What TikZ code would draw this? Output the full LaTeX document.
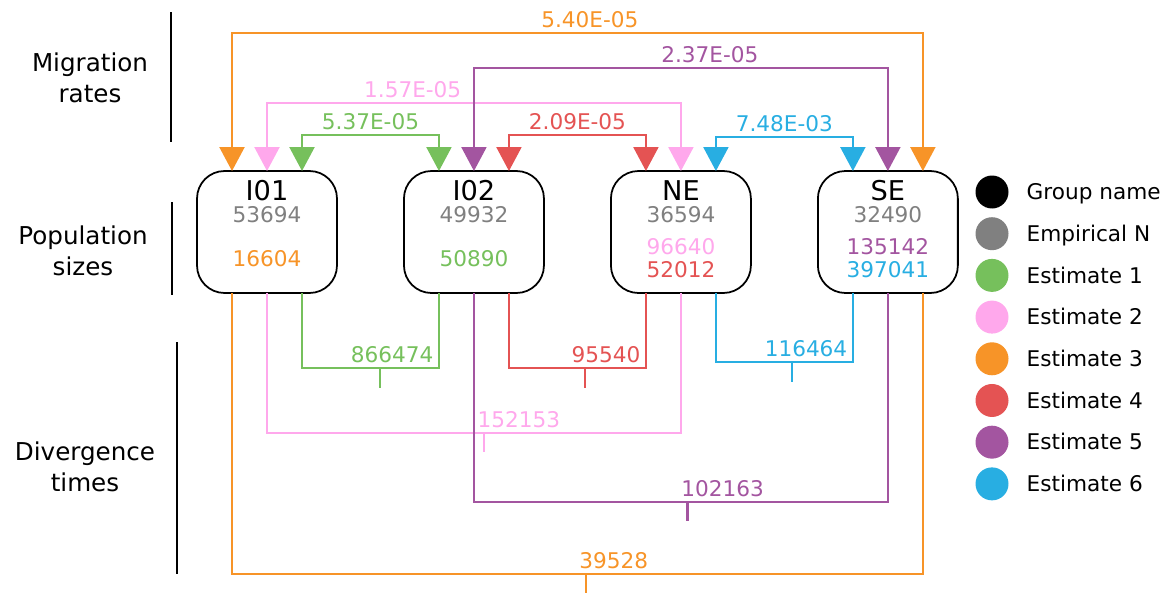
\documentclass[tikz,border=0pt]{standalone}
\usepackage{fontspec}
\setmainfont{DejaVu Sans}
\usetikzlibrary{arrows.meta,positioning,calc}

\definecolor{empgray}{RGB}{128,128,128}
\definecolor{estA}{RGB}{118,192,92}
\definecolor{estB}{RGB}{255,168,236}
\definecolor{estC}{RGB}{247,148,40}
\definecolor{estD}{RGB}{228,83,83}
\definecolor{estE}{RGB}{163,85,160}
\definecolor{estF}{RGB}{40,174,226}

\begin{document}
\begin{tikzpicture}[
    x=0.02cm, y=-0.02cm,
    popbox/.style={draw, rounded corners=0.55cm, line width=1pt, minimum width=2.8cm, minimum height=2.44cm, outer sep=0pt},
    grpname/.style={font=\fontsize{15.5}{17}\selectfont, inner sep=0pt},
    num/.style={font=\fontsize{12.3}{14}\selectfont, inner sep=0pt, text=#1},
    mig/.style={{Triangle[length=0.48cm,width=0.5cm]}-{Triangle[length=0.48cm,width=0.5cm]}, line width=1.25pt, draw=#1},
    div/.style={line width=1.4pt, draw=#1},
    lbl/.style={font=\fontsize{12.3}{14}\selectfont, inner sep=2.5pt, text=#1},
    cat/.style={font=\fontsize{14}{18}\selectfont, align=center},
    bar/.style={line width=1.1pt},
    dot/.style={circle, fill=#1, minimum size=0.66cm, inner sep=0pt},
    key/.style={font=\fontsize{12.3}{14}\selectfont, inner sep=0pt, text height=8.9pt, text depth=0pt},
]
    \useasboundingbox (0,0) rectangle (1173,592);

    % population boxes
    \node[popbox] (i01) at (267,232) {};
    \node[popbox, right=1.34cm of i01] (i02) {};
    \node[popbox, right=1.34cm of i02] (ne) {};
    \node[popbox, right=1.34cm of ne] (se) {};

    \node[grpname] (i01name) at ($(i01.north)+(0,20)$) {I01};
    \node[num=empgray] (i01emp) at ($(i01.north)+(0,44)$) {53694};
    \node[num=estC] (i01est) at ($(i01.north)+(0,88)$) {16604};

    \node[grpname] (i02name) at ($(i02.north)+(0,20)$) {I02};
    \node[num=empgray] (i02emp) at ($(i02.north)+(0,44)$) {49932};
    \node[num=estA] (i02est) at ($(i02.north)+(0,88)$) {50890};

    \node[grpname] (nename) at ($(ne.north)+(0,20)$) {NE};
    \node[num=empgray] (neemp) at ($(ne.north)+(0,44)$) {36594};
    \node[num=estB] (neestb) at ($(ne.north)+(0,76)$) {96640};
    \node[num=estD] (neestd) at ($(ne.north)+(0,99)$) {52012};

    \node[grpname] (sename) at ($(se.north)+(0,20)$) {SE};
    \node[num=empgray] (seemp) at ($(se.north)+(0,44)$) {32490};
    \node[num=estE] (seeste) at ($(se.north)+(0,76)$) {135142};
    \node[num=estF] (seestf) at ($(se.north)+(0,99)$) {397041};

    % migration rates
    \draw[mig=estC] ($(i01.north)+(-35,0)$) -- ++(0,-138) -| node[lbl=estC, above, pos=0.259] (mC) {5.40E-05} ($(se.north)+(35,0)$);
    \draw[mig=estB] (i01.north) -- ++(0,-68) -| node[lbl=estB, above, pos=0.176] (mB) {1.57E-05} (ne.north);
    \draw[mig=estE] (i02.north) -- ++(0,-103) -| node[lbl=estE, above, pos=0.285] (mE) {2.37E-05} (se.north);
    \draw[mig=estA] ($(i01.north)+(35,0)$) -- ++(0,-36) -| node[lbl=estA, above, pos=0.25] (mA) {5.37E-05} ($(i02.north)+(-35,0)$);
    \draw[mig=estD] ($(i02.north)+(35,0)$) -- ++(0,-36) -| node[lbl=estD, above, pos=0.25] (mD) {2.09E-05} ($(ne.north)+(-35,0)$);
    \draw[mig=estF] ($(ne.north)+(35,0)$) -- ++(0,-34) -| node[lbl=estF, above, pos=0.25] (mF) {7.48E-03} ($(se.north)+(-35,0)$);

    % divergence times
    \draw[div=estA] ($(i01.south)+(35,0)$) -- ++(0,75) -| node[lbl=estA, above left, pos=0.5] (dA) {866474} coordinate[pos=0.285] (tA) ($(i02.south)+(-35,0)$);
    \draw[div=estA] (tA) -- ++(0,20);
    \draw[div=estD] ($(i02.south)+(35,0)$) -- ++(0,75) -| node[lbl=estD, above left, pos=0.5] (dD) {95540} coordinate[pos=0.277] (tD) ($(ne.south)+(-35,0)$);
    \draw[div=estD] (tD) -- ++(0,20);
    \draw[div=estF] ($(ne.south)+(35,0)$) -- ++(0,69) -| node[lbl=estF, above left, pos=0.5] (dF) {116464} coordinate[pos=0.277] (tF) ($(se.south)+(-35,0)$);
    \draw[div=estF] (tF) -- ++(0,20);
    \draw[div=estB] (i01.south) -- ++(0,140) -| coordinate[pos=0.262] (tB) (ne.south);
    \draw[div=estB] (tB) -- ++(0,19);
    \node[lbl=estB, anchor=south west] (dB) at ($(tB)+(-11,0)$) {152153};
    \draw[div=estE] (i02.south) -- ++(0,209) -| coordinate[pos=0.258] (tE) (se.south);
    \draw[div=estE] (tE) -- ++(0,19);
    \node[lbl=estE, anchor=south west] (dE) at ($(tE)+(-11,0)$) {102163};
    \draw[div=estC] ($(i01.south)+(-35,0)$) -- ++(0,281) -| coordinate[pos=0.256] (tC) ($(se.south)+(35,0)$);
    \draw[div=estC] (tC) -- ++(0,19);
    \node[lbl=estC, anchor=south west] (dC) at ($(tC)+(-11,0)$) {39528};

    % row headings
    \node[cat] (migcat) at (90,78) {Migration\\rates};
    \node[cat] (popcat) at (83,251) {Population\\sizes};
    \node[cat] (divcat) at (85,467) {Divergence\\times};
    \draw[bar] (171,12) -- (171,142);
    \draw[bar] (172,202) -- (172,295);
    \draw[bar] (177,342) -- (177,574);

    % legend
    \node[dot=black] (kgrp) at (992,192) {};
    \node[dot=empgray, below=0.16cm of kgrp] (kemp) {};
    \node[dot=estA, below=0.16cm of kemp] (kA) {};
    \node[dot=estB, below=0.16cm of kA] (kB) {};
    \node[dot=estC, below=0.16cm of kB] (kC) {};
    \node[dot=estD, below=0.16cm of kC] (kD) {};
    \node[dot=estE, below=0.16cm of kD] (kE) {};
    \node[dot=estF, below=0.16cm of kE] (kF) {};
    \node[key, right=0.35cm of kgrp] (tgrp) {Group name};
    \node[key, right=0.35cm of kemp] (temp) {Empirical N};
    \node[key, right=0.35cm of kA] (ttA) {Estimate 1};
    \node[key, right=0.35cm of kB] (ttB) {Estimate 2};
    \node[key, right=0.35cm of kC] (ttC) {Estimate 3};
    \node[key, right=0.35cm of kD] (ttD) {Estimate 4};
    \node[key, right=0.35cm of kE] (ttE) {Estimate 5};
    \node[key, right=0.35cm of kF] (ttF) {Estimate 6};
\end{tikzpicture}
\end{document}
